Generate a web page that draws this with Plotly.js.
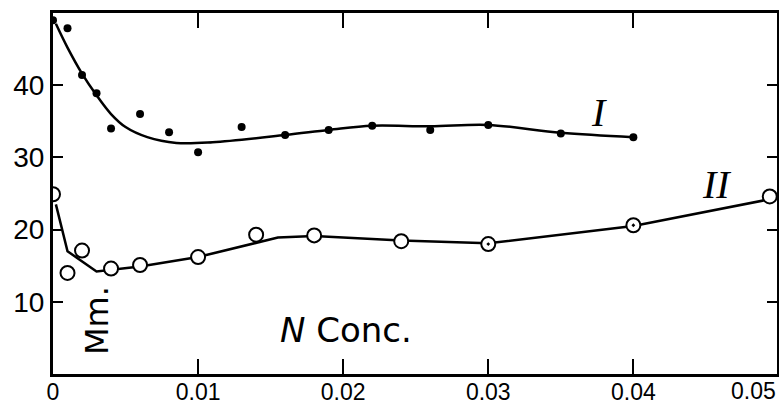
<!DOCTYPE html>
<html>
<head>
<meta charset="utf-8">
<script src="https://cdn.plot.ly/plotly-3.0.1.min.js"></script>
<style>
html,body{margin:0;padding:0;background:#fff;}
#chart{width:779px;height:405px;}
</style>
</head>
<body>
<div id="chart"></div>
<script>
// Series I (filled dots) - observed points
const conc1 = [0.0, 0.001, 0.002, 0.003, 0.004, 0.006, 0.008, 0.010, 0.013, 0.016, 0.019, 0.022, 0.026, 0.030, 0.035, 0.040];
const val1  = [49.0, 47.9, 41.4, 38.9, 34.0, 36.0, 33.5, 30.7, 34.2, 33.1, 33.8, 34.4, 33.8, 34.5, 33.3, 32.8];
// Series I fitted curve
const fitX1 = [0.0002, 0.001, 0.002, 0.003, 0.004, 0.005, 0.0065, 0.0085, 0.011, 0.016, 0.019, 0.022, 0.026, 0.030, 0.035, 0.040];
const fitY1 = [48.5, 45.2, 41.6, 38.6, 36.0, 34.2, 32.8, 32.0, 32.1, 33.1, 33.8, 34.4, 34.3, 34.5, 33.4, 32.8];

// Series II (open circles) - observed points
const conc2 = [0.0, 0.001, 0.002, 0.004, 0.006, 0.010, 0.014, 0.018, 0.024, 0.030, 0.040, 0.0494];
const val2  = [24.9, 14.0, 17.1, 14.6, 15.1, 16.2, 19.3, 19.2, 18.4, 18.0, 20.6, 24.6];
// Series II fitted line
const fitX2 = [0.0002, 0.001, 0.003, 0.004, 0.006, 0.010, 0.0155, 0.018, 0.024, 0.030, 0.040, 0.0499];
const fitY2 = [23.5, 17.0, 14.2, 14.4, 14.9, 16.2, 18.9, 19.1, 18.5, 18.1, 20.5, 24.4];

const xTicks = [0, 0.01, 0.02, 0.03, 0.04];
const xTickText = ["0", "0.01", "0.02", "0.03", "0.04"];
const yTicks = [10, 20, 30, 40];
const yTickText = ["10", "20", "30", "40"];

const traces = [
  {x: fitX1, y: fitY1, mode: 'lines', line: {color: '#000', width: 2.5, shape: 'spline', smoothing: 1.0}, hoverinfo: 'skip', showlegend: false},
  {x: fitX2, y: fitY2, mode: 'lines', line: {color: '#000', width: 2.5}, hoverinfo: 'skip', showlegend: false},
  {x: conc1, y: val1, mode: 'markers', marker: {color: '#000', size: 8}, showlegend: false},
  {x: conc2, y: val2, mode: 'markers',
   marker: {color: '#fff', size: 14, line: {color: '#000', width: 2},
            symbol: ['circle','circle','circle','circle','circle','circle','circle','circle','circle','circle-dot','circle-dot','circle']},
   showlegend: false}
];

const layout = {
  width: 779, height: 405,
  margin: {l: 53, r: 2, t: 13, b: 31},
  paper_bgcolor: '#fff', plot_bgcolor: '#fff',
  showlegend: false,
  font: {family: 'Liberation Sans, Arial, sans-serif', color: '#000'},
  xaxis: {
    range: [0, 0.0499], tickvals: xTicks, ticktext: xTickText,
    ticks: 'inside', ticklen: 15, tickwidth: 2, tickcolor: '#000',
    showline: true, linewidth: 3, linecolor: '#000', mirror: 'ticks',
    showgrid: false, zeroline: false, ticklabelstandoff: -5,
    tickfont: {size: 23, family: 'Liberation Sans, Arial, sans-serif', color: '#000'}
  },
  yaxis: {
    range: [0, 50], tickvals: yTicks, ticktext: yTickText,
    ticks: 'inside', ticklen: 10, tickwidth: 2, tickcolor: '#000',
    showline: true, linewidth: 3, linecolor: '#000', mirror: 'ticks',
    showgrid: false, zeroline: false,
    tickfont: {size: 28, family: 'Liberation Sans, Arial, sans-serif', color: '#000'}
  },
  annotations: [
    {x: 0.0499, y: 0, xref: 'x', yref: 'paper', text: '0.05', showarrow: false,
     xanchor: 'right', yanchor: 'top', yshift: -3, borderpad: 0,
     font: {size: 23, family: 'Liberation Sans, Arial, sans-serif', color: '#000'}},
    {x: 0.0376, y: 36.2, xref: 'x', yref: 'y', text: '<i>I</i>', showarrow: false,
     font: {size: 40, family: 'Liberation Serif, serif', color: '#000'}},
    {x: 0.0457, y: 26.3, xref: 'x', yref: 'y', text: '<i>II</i>', showarrow: false,
     font: {size: 40, family: 'Liberation Serif, serif', color: '#000'}},
    {x: 0.003, y: 7.4, xref: 'x', yref: 'y', text: 'Mm.', textangle: -90, showarrow: false,
     font: {size: 32, family: 'DejaVu Sans, sans-serif', color: '#000'}},
    {x: 0.0202, y: 6.1, xref: 'x', yref: 'y', text: '<i>N</i> Conc.', showarrow: false,
     font: {size: 34, family: 'DejaVu Sans, sans-serif', color: '#000'}}
  ]
};

Plotly.newPlot('chart', traces, layout, {staticPlot: true, displayModeBar: false});
</script>
</body>
</html>
